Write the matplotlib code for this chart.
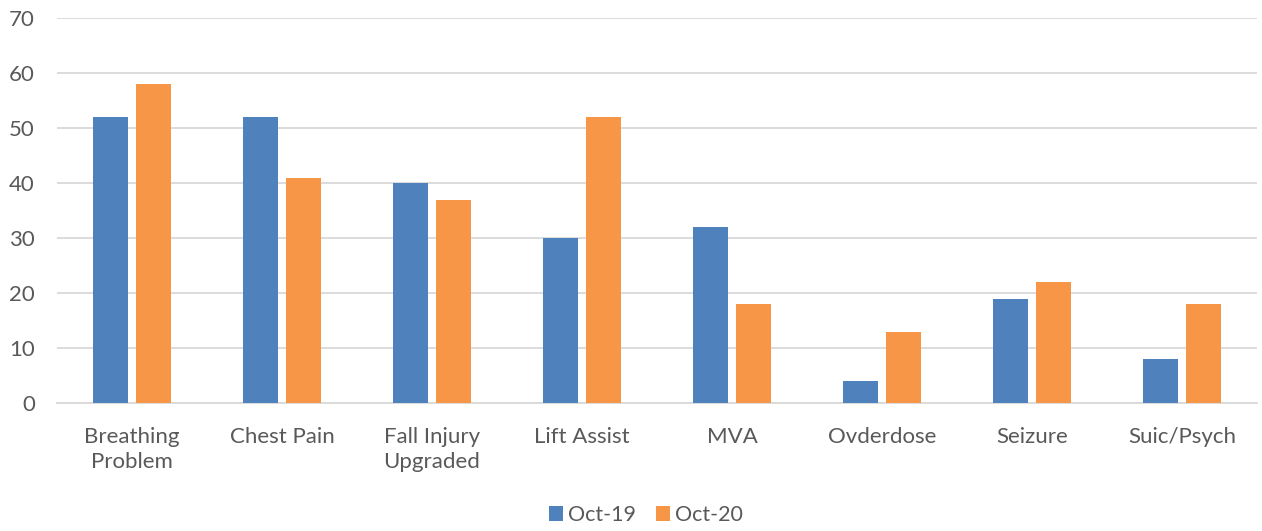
import numpy as np
import matplotlib.pyplot as plt

categories = ["Breathing\nProblem", "Chest Pain", "Fall Injury\nUpgraded", "Lift Assist",
              "MVA", "Ovderdose", "Seizure", "Suic/Psych"]
oct19 = [52, 52, 40, 30, 32, 4, 19, 8]
oct20 = [58, 41, 37, 52, 18, 13, 22, 18]
yticks = [0, 10, 20, 30, 40, 50, 60, 70]

plt.rcParams['font.family'] = ['Lato', 'DejaVu Sans']
txt = '#595959'

fig = plt.figure(figsize=(12.62, 5.31), dpi=100)
ax = fig.add_axes([57 / 1262, 1 - 403 / 531, 1200 / 1262, 385 / 531])

x = np.arange(len(categories))
w = 0.233
gap = 0.053
ax.bar(x - (w + gap) / 2, oct19, w, color='#4F81BD', label='Oct-19', zorder=3)
ax.bar(x + (w + gap) / 2, oct20, w, color='#F79646', label='Oct-20', zorder=3)

ax.set_xlim(-0.5, len(categories) - 0.5)
ax.set_ylim(0, 70)
ax.set_yticks(yticks)
ax.grid(axis='y', color='#D9D9D9', linewidth=1.3, zorder=0)
ax.set_axisbelow(True)
for s in ['top', 'right', 'left']:
    ax.spines[s].set_visible(False)
ax.spines['bottom'].set_color('#D9D9D9')
ax.spines['bottom'].set_linewidth(1.3)
ax.tick_params(axis='both', length=0, colors=txt, labelsize=16)
ax.tick_params(axis='y', pad=16)
ax.tick_params(axis='x', pad=17)
ax.set_xticks(x)
ax.set_xticklabels(categories, linespacing=1.35)

fig.legend(loc='center', bbox_to_anchor=(646 / 1262, 1 - 515 / 531), ncol=2,
           frameon=False, fontsize=15.5, handlelength=0.65, handleheight=0.65,
           handletextpad=0.25, columnspacing=0.9, labelcolor=txt)

fig.savefig('out.png', dpi=100)
